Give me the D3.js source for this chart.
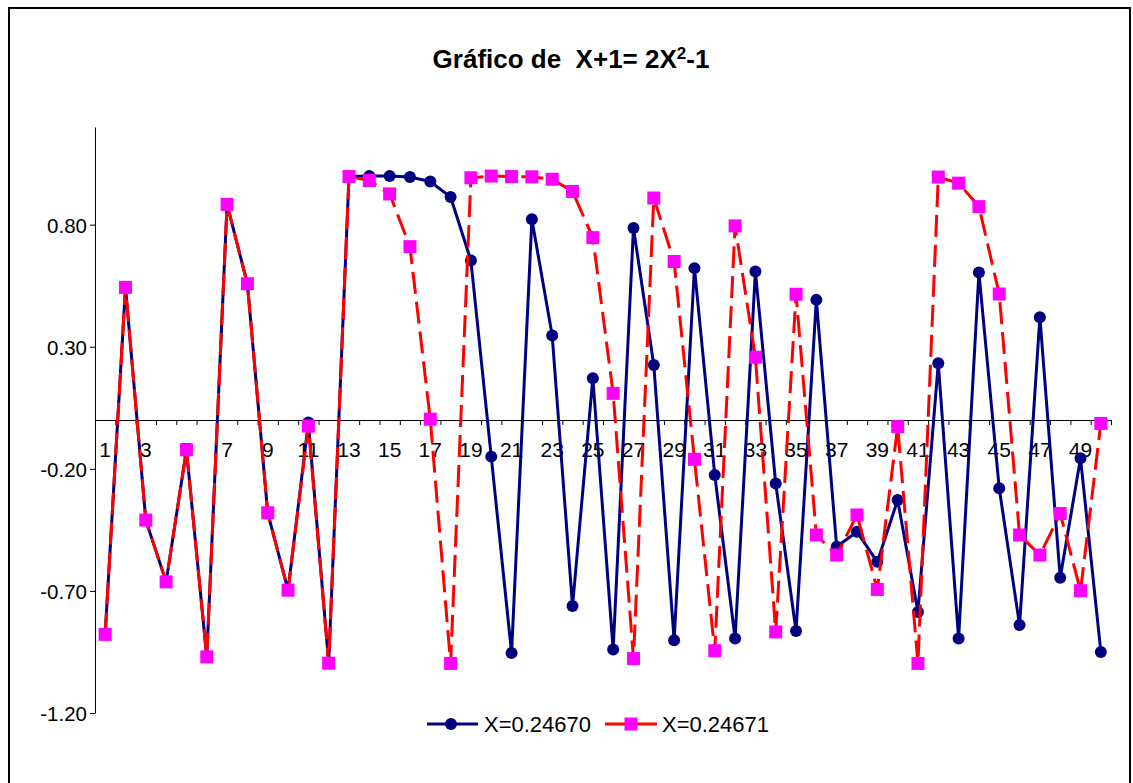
<!DOCTYPE html>
<html><head><meta charset="utf-8">
<script src="https://cdn.jsdelivr.net/npm/d3@7"></script>
<style>
body{margin:0;background:#fff;}
svg{display:block;font-family:Arial,"Liberation Sans",sans-serif;}
</style></head>
<body><svg id="c" width="1133" height="783"></svg>
<script>
const categories = d3.range(1, 51);
const labelCategories = categories.filter(d => d % 2 === 1);
const yTicks = [-1.2, -0.7, -0.2, 0.3, 0.8];
const seriesNames = ["X=0.24670", "X=0.24671"];
const seriesA = [-0.878,0.543,-0.410,-0.663,-0.122,-0.970,0.883,0.558,-0.380,-0.697,-0.010,-0.996,0.997,0.999,0.999,0.995,0.977,0.913,0.653,-0.150,-0.954,0.822,0.346,-0.762,0.171,-0.940,0.786,0.225,-0.902,0.622,-0.225,-0.895,0.608,-0.260,-0.864,0.492,-0.519,-0.458,-0.581,-0.328,-0.786,0.232,-0.895,0.604,-0.280,-0.840,0.421,-0.646,-0.157,-0.950];
const seriesB = [-0.878,0.543,-0.410,-0.663,-0.122,-0.970,0.883,0.558,-0.380,-0.697,-0.025,-0.996,0.997,0.981,0.926,0.710,0.003,-0.997,0.992,0.999,0.997,0.996,0.986,0.936,0.747,0.109,-0.977,0.909,0.649,-0.161,-0.945,0.795,0.257,-0.868,0.515,-0.471,-0.553,-0.389,-0.694,-0.027,-0.997,0.995,0.970,0.874,0.516,-0.471,-0.553,-0.383,-0.699,-0.014];

const svg = d3.select("#c");
const L = 95, R = 1111, T = 127, B = 713;
const x = d3.scaleBand().domain(categories).range([L, R]);
const xc = d => x(d) + x.bandwidth() / 2;
const y = d3.scaleLinear().domain([-1.2, 1.2]).range([B, T]);
const FONT = "Arial,'Liberation Sans',sans-serif";

// chart border
svg.append("rect").attr("x", 9).attr("y", 8).attr("width", 1121).attr("height", 790)
  .attr("fill", "#fff").attr("stroke", "#000").attr("stroke-width", 2);

// title
const title = svg.append("text").attr("x", 571).attr("y", 68).attr("text-anchor", "middle")
  .attr("font-size", 26).attr("font-weight", "bold").attr("fill", "#000");
title.append("tspan").text("Gráfico de \u00a0X+1= 2X");
title.append("tspan").attr("font-size", 17).attr("dy", -9).text("2");
title.append("tspan").attr("dy", 9).text("-1");

// y axis
const yAxis = svg.append("g").attr("transform", `translate(${L},0)`)
  .call(d3.axisLeft(y).tickValues(yTicks).tickFormat(d => d.toFixed(2)).tickSize(5).tickSizeOuter(0).tickPadding(3));
yAxis.selectAll("text").attr("font-size", 20.5).attr("fill", "#000").attr("font-family", FONT).attr("dy", "0.36em");
yAxis.selectAll("line,path").attr("stroke", "#000");

// x axis at y=0 with boundary ticks
const xb = d3.scaleLinear().domain([0, 50]).range([L, R]);
const xTickAxis = svg.append("g").attr("transform", `translate(0,${y(0)})`)
  .call(d3.axisBottom(xb).tickValues(d3.range(0, 51)).tickFormat("").tickSize(5).tickSizeOuter(0));
xTickAxis.selectAll("line,path").attr("stroke", "#000");
const xLab = svg.append("g").attr("transform", `translate(0,${y(0)})`)
  .call(d3.axisBottom(x).tickValues(labelCategories).tickSize(0).tickPadding(0));
xLab.select(".domain").remove();
xLab.selectAll("text").attr("font-size", 21).attr("fill", "#000").attr("dy", null).attr("y", 37)
  .attr("font-family", FONT);

const line = d3.line().x((d, i) => xc(categories[i])).y(d => y(d));

// series A
svg.append("path").datum(seriesA).attr("d", line).attr("fill", "none")
  .attr("stroke", "#000080").attr("stroke-width", 3).attr("stroke-linejoin", "round");
svg.append("g").selectAll("circle").data(seriesA).join("circle")
  .attr("cx", (d, i) => xc(categories[i])).attr("cy", d => y(d)).attr("r", 6).attr("fill", "#000080");

// series B
svg.append("path").datum(seriesB).attr("d", line).attr("fill", "none")
  .attr("stroke", "#ff0000").attr("stroke-width", 3).attr("stroke-dasharray", "22,8");
svg.append("g").selectAll("rect").data(seriesB).join("rect")
  .attr("x", (d, i) => xc(categories[i]) - 6.5).attr("y", d => y(d) - 6.5)
  .attr("width", 13).attr("height", 13).attr("fill", "#ff00ff");

// legend
const lg = svg.append("g").attr("font-family", FONT);
const ly = 724;
lg.append("line").attr("x1", 427).attr("x2", 478).attr("y1", ly).attr("y2", ly).attr("stroke", "#000080").attr("stroke-width", 3);
lg.append("circle").attr("cx", 451).attr("cy", ly).attr("r", 6).attr("fill", "#000080");
lg.append("text").attr("x", 484).attr("y", 732).attr("font-size", 22).text(seriesNames[0]);
lg.append("line").attr("x1", 605).attr("x2", 657).attr("y1", ly).attr("y2", ly).attr("stroke", "#ff0000").attr("stroke-width", 3).attr("stroke-dasharray", "22,8");
lg.append("rect").attr("x", 631 - 6.5).attr("y", ly - 6.5).attr("width", 13).attr("height", 13).attr("fill", "#ff00ff");
lg.append("text").attr("x", 662).attr("y", 732).attr("font-size", 22).text(seriesNames[1]);
</script></body></html>
